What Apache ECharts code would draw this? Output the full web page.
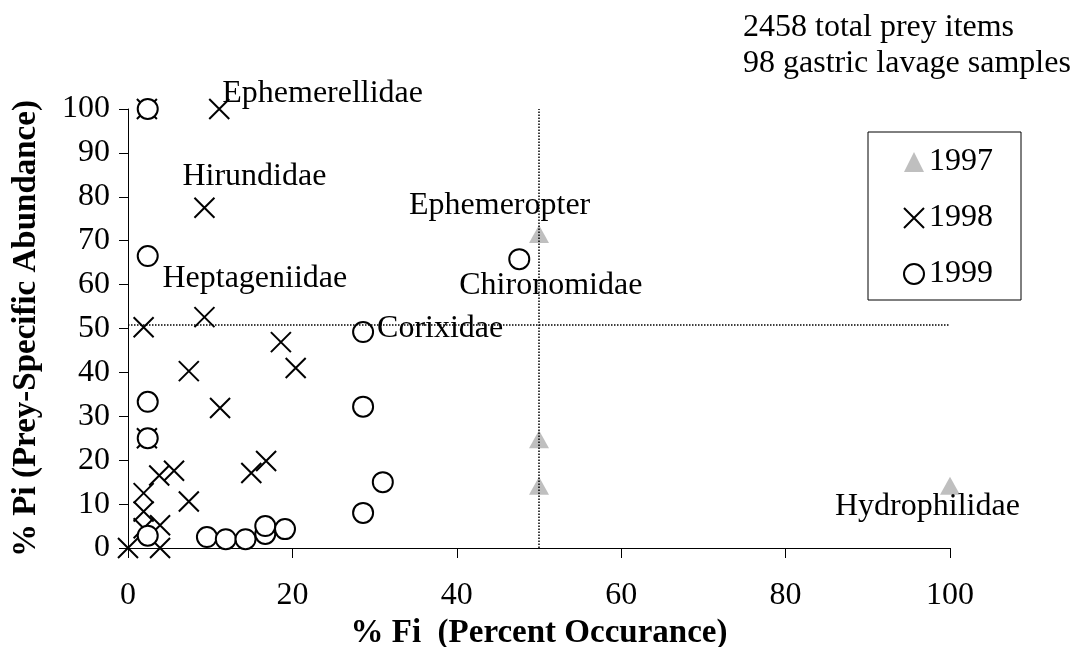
<!DOCTYPE html>
<html>
<head>
<meta charset="utf-8">
<script src="https://cdn.jsdelivr.net/npm/echarts@6/dist/echarts.min.js"></script>
<style>
  html, body { margin: 0; padding: 0; background: #fff; }
  #chart { width: 1077px; height: 647px; }
</style>
</head>
<body>
<div id="chart"></div>
<script>
// % Fi (x) and % Pi (y) per year
const fi1997 = [50, 50, 50, 100]
const pi1997 = [71.5, 24.8, 14.2, 14.2]

const fi1998 = [11.1, 2.3, 9.3, 9.3, 1.9, 18.6, 7.4, 20.4, 11.2, 2.3, 16.8, 15.0, 5.6, 3.8, 1.9, 7.4, 1.9, 1.9, 3.9, 0, 3.9]
const pi1998 = [100, 100, 77.5, 52.6, 50.3, 46.9, 40.3, 41.0, 31.9, 25, 19.8, 17.1, 17.6, 16.5, 12.5, 10.6, 8.3, 4.5, 5.2, 0, 0]

const fi1999 = [2.4, 2.4, 47.6, 28.6, 2.4, 28.6, 2.4, 31.0, 28.6, 2.4, 9.6, 11.9, 14.3, 16.7, 16.7, 19.1]
const pi1999 = [100, 66.5, 65.8, 49.2, 33.3, 32.2, 25, 15.0, 8.0, 2.8, 2.5, 2.0, 2.0, 3.2, 5.0, 4.3]

// reference lines
const fiCut = 50
const piCut = 50.8

// family names written next to points: [year, point index, text, dx, dy]
const familyLabels = [
  ['1998', 0, 'Ephemerellidae', 3, -15],
  ['1998', 2, 'Hirundidae', -22, -31],
  ['1998', 3, 'Heptageniidae', -42, -38],
  ['1997', 0, 'Ephemeropter', -130, -29],
  ['1999', 2, 'Chironomidae', -60, 26],
  ['1999', 3, 'Corixidae', 14, -3],
  ['1997', 3, 'Hydrophilidae', -115, 21]
]

const FONT = "'Liberation Serif', 'Times New Roman', serif"
const crossPath = 'path://M0,0L20,20M20,0L0,20'

function buildData(year, xs, ys) {
  return xs.map((x, i) => {
    const item = { value: [x, ys[i]] }
    const lab = familyLabels.find(l => l[0] === year && l[1] === i)
    if (lab) {
      item.label = {
        show: true,
        formatter: lab[2],
        position: 'inside',
        align: 'left',
        verticalAlign: 'middle',
        offset: [lab[3], lab[4]],
        color: '#000',
        fontFamily: FONT,
        fontSize: 32
      }
    }
    return item
  })
}

const chart = echarts.init(document.getElementById('chart'))

const option = {
  animation: false,
  backgroundColor: '#fff',
  textStyle: { fontFamily: FONT, color: '#000' },
  grid: { left: 128, right: 127, top: 109, bottom: 99, outerBoundsMode: 'none' },
  graphic: [
    {
      type: 'text',
      left: 743,
      top: 10,
      style: {
        text: '2458 total prey items\n98 gastric lavage samples',
        font: '32px ' + FONT,
        lineHeight: 36,
        fill: '#000'
      }
    }
  ],
  legend: {
    orient: 'vertical',
    left: 868,
    top: 132,
    padding: [14, 28, 10, 35],
    borderColor: '#000',
    borderWidth: 1,
    itemWidth: 20,
    itemHeight: 20,
    itemGap: 24,
    textStyle: { fontFamily: FONT, fontSize: 32, color: '#000', lineHeight: 31 },
    data: [
      { name: '1997', icon: 'triangle' },
      { name: '1998', icon: crossPath },
      { name: '1999', icon: 'circle' }
    ]
  },
  xAxis: {
    type: 'value',
    min: 0,
    max: 100,
    interval: 20,
    name: '% Fi  (Percent Occurance)',
    nameLocation: 'middle',
    nameGap: 66,
    nameTextStyle: { fontFamily: FONT, fontSize: 33, fontWeight: 'bold', color: '#000' },
    axisLine: { show: true, lineStyle: { color: '#000', width: 1 } },
    axisTick: { show: true, length: 10, lineStyle: { color: '#000' } },
    axisLabel: { fontFamily: FONT, fontSize: 32, color: '#000', margin: 32 },
    splitLine: { show: false }
  },
  yAxis: {
    type: 'value',
    min: 0,
    max: 100,
    interval: 10,
    name: '% Pi (Prey-Specific Abundance)',
    nameLocation: 'middle',
    nameRotate: 90,
    nameGap: 85,
    nameTextStyle: { fontFamily: FONT, fontSize: 33, fontWeight: 'bold', color: '#000' },
    axisLine: { show: true, lineStyle: { color: '#000', width: 1 } },
    axisTick: { show: true, length: 9, lineStyle: { color: '#000' } },
    axisLabel: { fontFamily: FONT, fontSize: 32, color: '#000', margin: 18 },
    splitLine: { show: false }
  },
  series: [
    {
      name: '1997',
      type: 'scatter',
      symbol: 'triangle',
      symbolSize: [20, 18],
      itemStyle: { color: '#bfbfbf', opacity: 1 },
      data: buildData('1997', fi1997, pi1997),
      markLine: {
        silent: true,
        symbol: 'none',
        label: { show: false },
        lineStyle: { color: '#000', type: 'dotted', width: 1.5 },
        data: [
          [{ coord: [fiCut, 0] }, { coord: [fiCut, 100] }],
          [{ coord: [0, piCut] }, { coord: [100, piCut] }]
        ]
      }
    },
    {
      name: '1998',
      type: 'scatter',
      symbol: crossPath,
      symbolSize: 20,
      itemStyle: { color: '#000', borderColor: '#000', borderWidth: 2, opacity: 1 },
      data: buildData('1998', fi1998, pi1998)
    },
    {
      name: '1999',
      type: 'scatter',
      symbol: 'circle',
      symbolSize: 20,
      itemStyle: { color: '#fff', borderColor: '#000', borderWidth: 2, opacity: 1 },
      data: buildData('1999', fi1999, pi1999)
    }
  ]
}

chart.setOption(option)
window.addEventListener('resize', () => chart.resize())
</script>
</body>
</html>
